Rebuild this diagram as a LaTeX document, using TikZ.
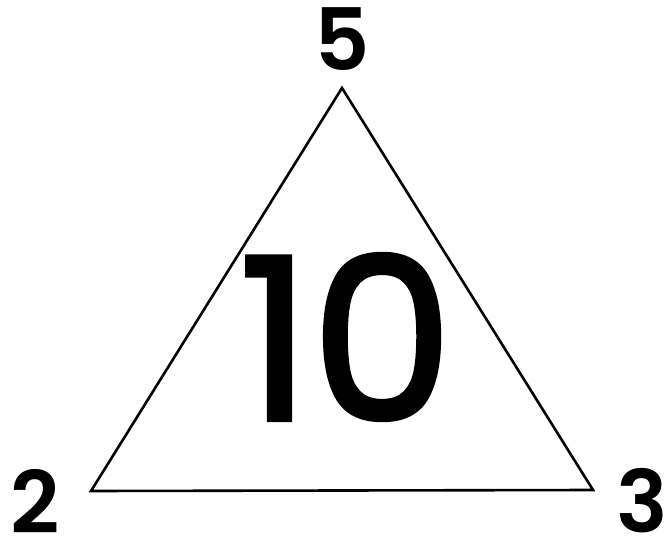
\documentclass[tikz,border=0pt]{standalone}
\usepackage{fontspec}
\setmainfont{Poppins}[BoldFont={* SemiBold}]
\newfontfamily\midfont{Poppins}[FakeBold=2]
\begin{document}
\begin{tikzpicture}[x=1pt,y=-1pt,
  edge/.style={line width=2.6pt,line join=miter},
  corner/.style={inner sep=0pt,font=\fontsize{86}{86}\selectfont\bfseries},
  center/.style={inner sep=0pt,font=\fontsize{226}{226}\selectfont\midfont}]
\useasboundingbox (0,0) rectangle (665,538);
\coordinate (A) at (342,88);
\coordinate (B) at (91,491);
\coordinate (C) at (593,490);
\draw[edge] (A) -- (B) -- (C) -- cycle;
\node[corner] (n5) at (342,39) {5};
\node[corner] (n2) at (35,501) {2};
\node[corner] (n3) at (642,501) {3};
\node[center] (n10) at (346,337) {10};
\end{tikzpicture}
\end{document}
